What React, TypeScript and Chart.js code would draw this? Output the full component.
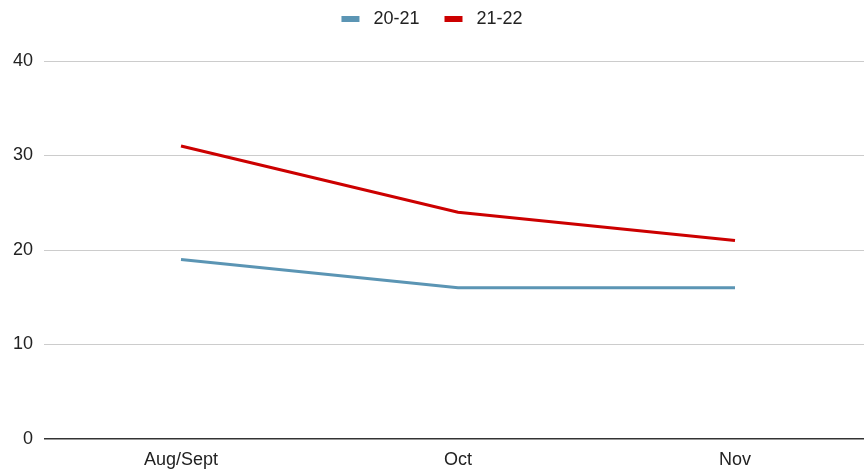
import React, { useEffect, useRef } from "react";
import { Chart, registerables } from "chart.js";

Chart.register(...registerables);

const categories = ["Aug/Sept", "Oct", "Nov"];
const seriesNames = ["20-21", "21-22"];
const series2021 = [19, 16, 16];
const series2122 = [31, 24, 21];
const yTicks = [0, 10, 20, 30, 40];

const legendSpacer = {
  id: "legendSpacer",
  afterInit(chart: any) {
    const lg = chart.legend;
    if (!lg) return;
    const fit = lg.fit;
    lg.fit = function () {
      fit.call(this);
      this.height += 23;
    };
  },
};

export default function App() {
  const ref = useRef<HTMLCanvasElement | null>(null);
  useEffect(() => {
    document.body.style.margin = "0";
    const ctx = ref.current!;
    const font = "Arial, 'Liberation Sans', sans-serif";
    const chart = new Chart(ctx, {
      type: "line",
      plugins: [legendSpacer],
      data: {
        datasets: [
          {
            label: seriesNames[0],
            data: series2021.map((v, i) => ({ x: i, y: v })),
            borderColor: "#5b95b4",
            backgroundColor: "#5b95b4",
            borderWidth: 3,
            pointRadius: 0,
            tension: 0,
          },
          {
            label: seriesNames[1],
            data: series2122.map((v, i) => ({ x: i, y: v })),
            borderColor: "#cc0000",
            backgroundColor: "#cc0000",
            borderWidth: 3,
            pointRadius: 0,
            tension: 0,
          },
        ],
      },
      options: {
        animation: false,
        responsive: false,
        plugins: {
          tooltip: { enabled: false },
          legend: {
            position: "top",
            labels: {
              boxWidth: 18,
              boxHeight: 6,
              padding: 10,
              color: "#222",
              font: { family: font, size: 18 },
              generateLabels: (c: any) => {
                const items = Chart.defaults.plugins.legend.labels.generateLabels(c);
                return items.map((it: any, i: number) => ({
                  ...it,
                  lineWidth: 0,
                  text: " " + it.text + (i < items.length - 1 ? "   " : ""),
                }));
              },
            },
          },
        },
        scales: {
          x: {
            type: "linear",
            min: -0.4946,
            max: 2.4657,
            grid: { display: false, drawTicks: false },
            border: { display: false },
            afterBuildTicks: (scale: any) => {
              scale.ticks = categories.map((_, i) => ({ value: i }));
            },
            afterFit: (scale: any) => {
              scale.height = 31;
            },
            ticks: {
              padding: 10,
              color: "#222",
              font: { family: font, size: 18 },
              maxRotation: 0,
              autoSkip: false,
              callback: (v: any) => categories[v] ?? "",
            },
          },
          y: {
            min: 0,
            max: 40,
            afterBuildTicks: (scale: any) => {
              scale.ticks = yTicks.map((v) => ({ value: v }));
            },
            afterFit: (scale: any) => {
              scale.width = 44;
            },
            grid: {
              drawTicks: false,
              color: (c: any) => (c.tick && c.tick.value === 0 ? "#333" : "#cccccc"),
              lineWidth: (c: any) => (c.tick && c.tick.value === 0 ? 1.5 : 1),
            },
            border: { display: false },
            ticks: {
              padding: 11,
              color: "#222",
              font: { family: font, size: 18 },
            },
          },
        },
      },
    });
    return () => chart.destroy();
  }, []);
  return (
    <div style={{ position: "fixed", left: 0, top: 0, width: 864, height: 470 }}>
      <canvas ref={ref} width={864} height={470} />
    </div>
  );
}
